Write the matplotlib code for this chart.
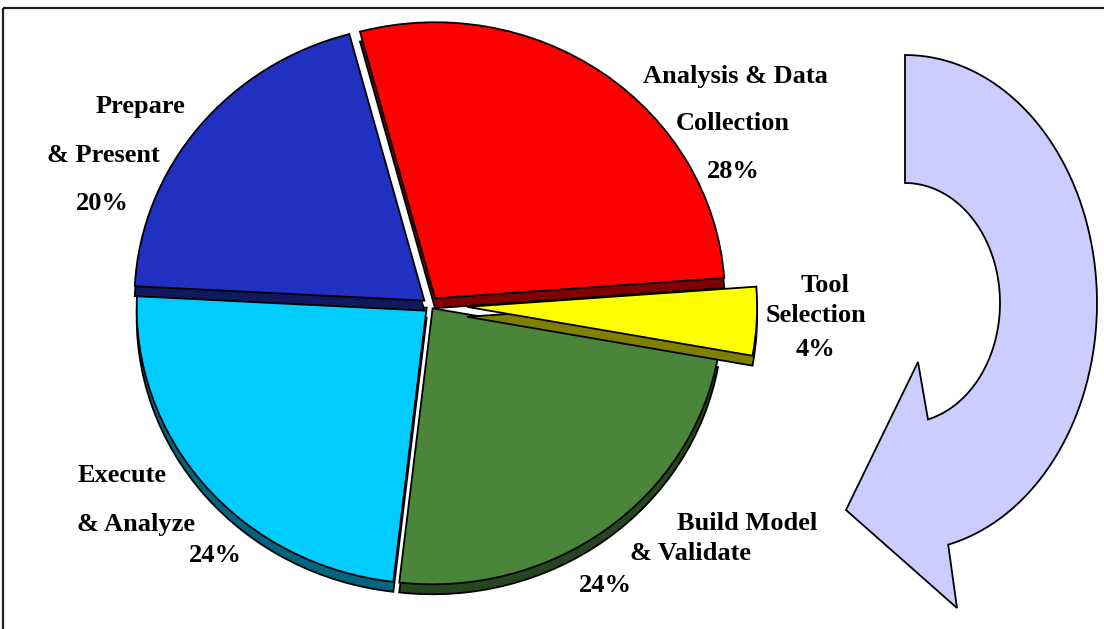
import numpy as np
import matplotlib
matplotlib.use("Agg")
import matplotlib.pyplot as plt
from matplotlib.patches import Polygon, Rectangle

# data
phases = ["Analysis & Data Collection", "Tool Selection", "Build Model & Validate",
          "Execute & Analyze", "Prepare & Present"]
shares = [28, 4, 24, 24, 20]
# how each label is broken over lines on the chart
label_lines = [["Analysis & Data", "Collection"], ["Tool", "Selection"],
               ["Build Model", "& Validate"], ["Execute", "& Analyze"],
               ["Prepare", "& Present"]]

# styling
top_colors = ["#FF0000", "#FFFF00", "#4A853A", "#00CCFF", "#2030C0"]
side_colors = ["#800000", "#808000", "#264620", "#006680", "#101860"]
explode = [0.03, 0.128, 0.015, 0.015, 0.025]
draw_rank = [3, 4, 1, 0, 2]   # back to front order of the slices
depth = 0.036

W, H = 1104, 629
fig = plt.figure(figsize=(W / 100, H / 100), dpi=100)

# pie axes: center at (430, 305) px, radius 290 px wide x 276 px tall
cx, cy, rx, ry, lim = 430, 305, 290, 276, 1.6
ax = fig.add_axes([(cx - lim * rx) / W, (H - cy - lim * ry) / H,
                   2 * lim * rx / W, 2 * lim * ry / H])

wprops = dict(edgecolor="black", linewidth=1.3)
sides, _ = ax.pie(shares, explode=explode, colors=side_colors, startangle=105,
                  counterclock=False, center=(0, -depth), wedgeprops=wprops)
tops, _ = ax.pie(shares, explode=explode, colors=top_colors, startangle=105,
                 counterclock=False, wedgeprops=wprops)
for k in range(len(shares)):
    sides[k].set_zorder(2 * draw_rank[k] + 1)
    tops[k].set_zorder(2 * draw_rank[k] + 2)
ax.set_aspect("auto")
ax.set_xlim(-lim, lim)
ax.set_ylim(-lim, lim)
ax.axis("off")

# overlay axes in pixel coordinates for text, arrow and frame
ov = fig.add_axes([0, 0, 1, 1])
ov.set_xlim(0, W)
ov.set_ylim(H, 0)
ov.axis("off")

ov.add_patch(Rectangle((3, 8), W + 20, H + 20, fill=False,
                       edgecolor="#202020", linewidth=1.6))

# curved arrow
t_out = np.deg2rad(np.linspace(90, -77, 80))
t_in = np.deg2rad(np.linspace(-76, 90, 80))
outer = np.column_stack([905 + 192 * np.cos(t_out), 303 - 248 * np.sin(t_out)])
inner = np.column_stack([905 + 95 * np.cos(t_in), 303 - 120 * np.sin(t_in)])
head = np.array([[957, 608], [846, 510], [918, 362]])
pts = np.vstack([outer, head, inner])
ov.add_patch(Polygon(pts, closed=True, facecolor="#CCCCFF",
                     edgecolor="black", linewidth=1.3))

# labels, one text per line
label_pos = [
    [(735, 77), (733, 124), (733, 172)],
    [(825, 285), (816, 316), (816, 349)],
    [(747, 523), (690, 554), (605, 586)],
    [(122, 476), (136, 524), (215, 555)],
    [(140, 107), (103, 156), (102, 203)],
]
font = dict(family="Liberation Serif", fontweight="bold", fontsize=19,
            ha="center", va="center", color="black")
for lines, share, pos in zip(label_lines, shares, label_pos):
    texts = lines + [f"{share}%"]
    for txt, (x, y) in zip(texts, pos):
        ov.text(x, y, txt, **font)

fig.savefig("out.png", dpi=100)
